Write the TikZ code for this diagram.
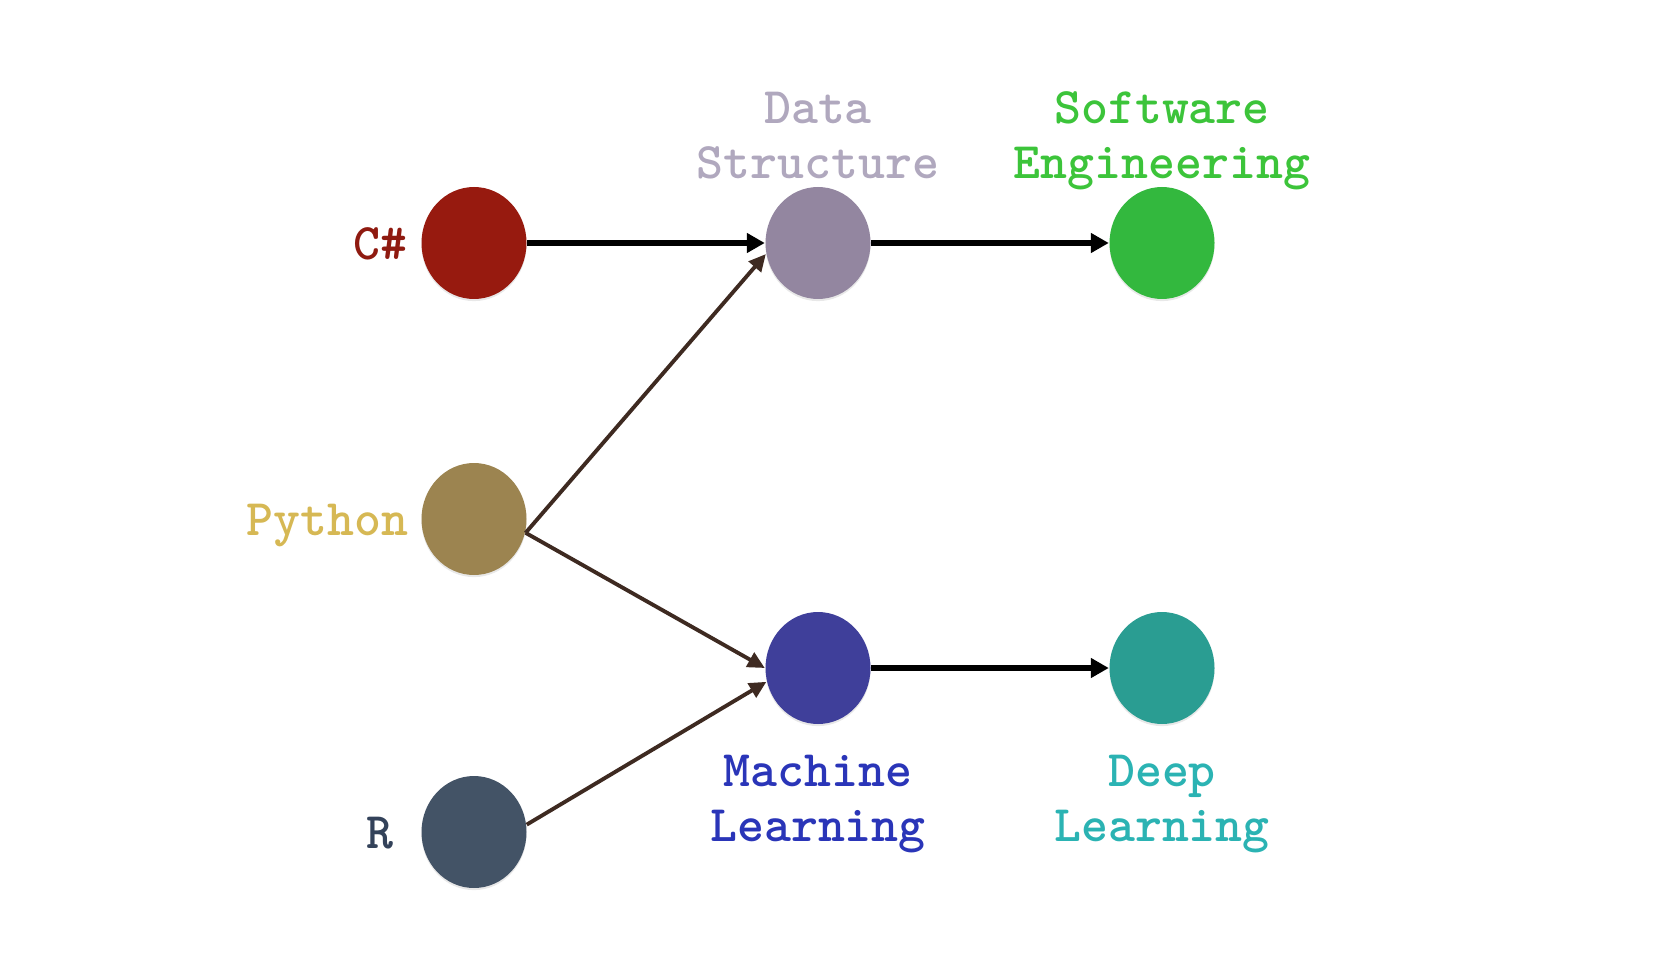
\documentclass[tikz,border=0pt]{standalone}
\usepackage{fontspec}
\usepackage{tikz}
\usetikzlibrary{shapes}
\usetikzlibrary{arrows.meta}
\usetikzlibrary{shadows}
\usetikzlibrary{positioning}
\newcommand{\lblfont}{\ttfamily\bfseries\fontsize{14.6pt}{15.65pt}\selectfont}
\definecolor{csnode}{HTML}{971A0F}
\definecolor{cslbl}{HTML}{8F1A10}
\definecolor{dsnode}{HTML}{9386A0}
\definecolor{dslbl}{HTML}{B0A8BE}
\definecolor{senode}{HTML}{33B83E}
\definecolor{selbl}{HTML}{3CC43A}
\definecolor{pynode}{HTML}{9C8450}
\definecolor{pylbl}{HTML}{D6B854}
\definecolor{mlnode}{HTML}{3F3F9A}
\definecolor{mllbl}{HTML}{2A35B8}
\definecolor{dlnode}{HTML}{2A9D92}
\definecolor{dllbl}{HTML}{2BB3B3}
\definecolor{rnode}{HTML}{435366}
\definecolor{rlbl}{HTML}{33425A}
\definecolor{brownline}{HTML}{3E2A21}
\tikzstyle{course}=[ellipse,draw=none,inner sep=0mm,minimum width=1.05cm,minimum height=1.12cm,drop shadow={opacity=0.18,shadow xshift=0pt,shadow yshift=-0.6pt}]
\tikzstyle{lbl}=[inner sep=0mm,align=center,font=\lblfont]
\tikzstyle{arrow}=[-{Triangle[length=0.18cm,width=0.19cm]},line width=1.5pt,black]
\tikzstyle{link}=[-{Triangle[length=0.17cm,width=0.16cm]},line width=1.1pt,draw=brownline,fill=brownline]

\begin{document}
\begin{tikzpicture}
      \useasboundingbox (0,0) rectangle (16.78,-9.56);
      \node[course,fill=csnode] at (4.74,-2.43) (cs) {};
      \node[course,fill=dsnode] at (8.18,-2.43) (ds) {};
      \node[course,fill=senode] at (11.62,-2.43) (se) {};
      \node[course,fill=pynode] at (4.74,-5.19) (py) {};
      \node[course,fill=mlnode] at (8.18,-6.68) (ml) {};
      \node[course,fill=dlnode] at (11.62,-6.68) (dl) {};
      \node[course,fill=rnode] at (4.74,-8.32) (r) {};
      \node[lbl,text=cslbl,anchor=base east] at ([xshift=-0.13cm,yshift=-0.165cm]cs.west) (csl) {C\#};
      \node[lbl,text=pylbl,anchor=base east] at ([xshift=-0.12cm,yshift=-0.16cm]py.west) (pyl) {Python};
      \node[lbl,text=rlbl,anchor=base east] at ([xshift=-0.27cm,yshift=-0.16cm]r.west) (rl) {R};
      \node[lbl,text=dslbl,anchor=south,text depth=0pt] at ([yshift=0.07cm]ds.north) (dsl) {Data\\Structure};
      \node[lbl,text=selbl,anchor=south,text depth=0pt] at ([yshift=0.07cm]se.north) (sel) {Software\\Engineering};
      \node[lbl,text=mllbl,anchor=north] at ([yshift=-0.30cm]ml.south) (mll) {Machine\\Learning};
      \node[lbl,text=dllbl,anchor=north] at ([yshift=-0.30cm]dl.south) (dll) {Deep\\Learning};
      \draw[arrow] (cs) -- (ds.west);
      \draw[arrow] (ds) -- (se.west);
      \draw[arrow] (ml) -- (dl.west);
      \draw[link] (py.-15) -- (ds.192);
      \draw[link] (py.-15) -- (ml.west);
      \draw[link] (r.8) -- (ml.195);
    \end{tikzpicture}
\end{document}
